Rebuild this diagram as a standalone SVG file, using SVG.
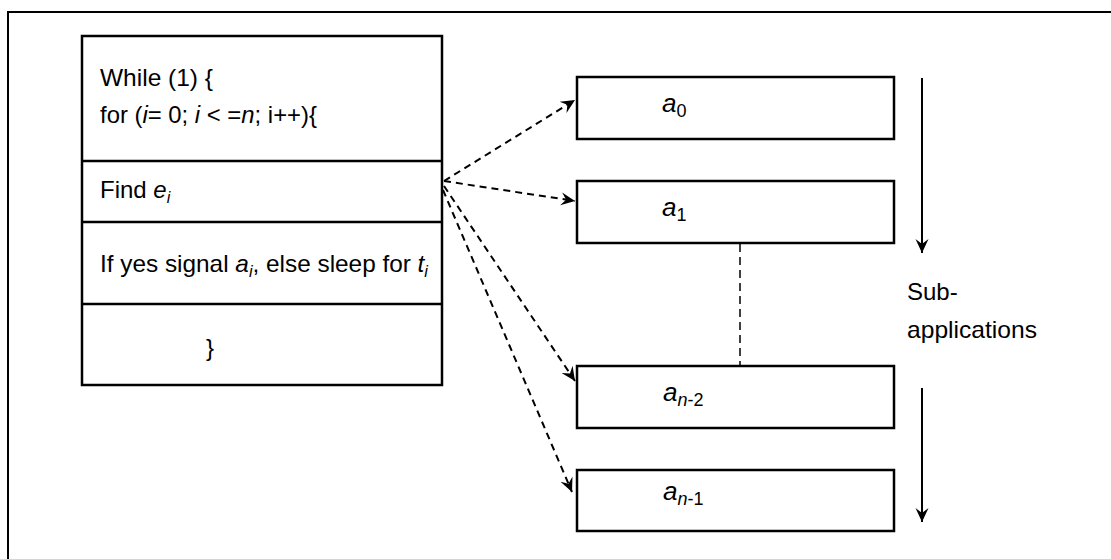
<svg xmlns="http://www.w3.org/2000/svg" width="1111" height="559" viewBox="0 0 1111 559">
<style>
  .frame { fill: none; stroke: #000; stroke-width: 2; }
  .box { fill: #fff; stroke: #000; stroke-width: 2.5; }
  .div { stroke: #000; stroke-width: 2.5; }
  .t { font-family: "Liberation Sans", Arial, sans-serif; font-size: 24px; fill: #000; }
  .it { font-style: italic; }
  .sub { font-size: 16px; }
  .lab { font-size: 26px; }
  .lsub { font-size: 18px; }
  .dash { fill: none; stroke: #000; stroke-width: 2; stroke-dasharray: 7 5; }
  .vdash { fill: none; stroke: #000; stroke-width: 1.5; stroke-dasharray: 8 5; }
  .solid { fill: none; stroke: #000; stroke-width: 2; }
</style>
<defs>
  <marker id="ah" viewBox="-14 -7 15 14" refX="0" refY="0" markerWidth="15" markerHeight="14" markerUnits="userSpaceOnUse" orient="auto">
    <path d="M0,0 L-14,-6.5 L-9,0 L-14,6.5 Z" fill="#000"/>
  </marker>
</defs>
<rect width="1111" height="559" fill="#fff"/>
<path class="frame" d="M8,559 V12 H1111"/>

<g id="loop">
  <rect class="box" x="82" y="36" width="360" height="349"/>
  <line class="div" x1="82" y1="161" x2="442" y2="161"/>
  <line class="div" x1="82" y1="222" x2="442" y2="222"/>
  <line class="div" x1="82" y1="304" x2="442" y2="304"/>
  <text class="t" x="100" y="86" textLength="113" lengthAdjust="spacingAndGlyphs">While (1) {</text>
  <text class="t" x="100" y="123" textLength="217" lengthAdjust="spacingAndGlyphs">for (<tspan class="it">i</tspan>= 0; <tspan class="it">i</tspan> &lt; =<tspan class="it">n</tspan>; i++){</text>
  <text class="t" x="100" y="198">Find <tspan class="it">e</tspan><tspan class="it sub" dy="5">i</tspan></text>
  <text class="t" x="100" y="272" textLength="328" lengthAdjust="spacingAndGlyphs">If yes signal <tspan class="it">a</tspan><tspan class="it sub" dy="5">i</tspan><tspan dy="-5">, else sleep for </tspan><tspan class="it">t</tspan><tspan class="it sub" dy="5">i</tspan></text>
  <text class="t" x="206" y="356">}</text>
</g>

<g id="a0">
  <rect class="box" x="577" y="77" width="317" height="62"/>
  <text class="t lab" x="662" y="112"><tspan class="it">a</tspan><tspan class="lsub" dy="5">0</tspan></text>
</g>
<g id="a1">
  <rect class="box" x="577" y="181" width="317" height="62"/>
  <text class="t lab" x="662" y="216"><tspan class="it">a</tspan><tspan class="lsub" dy="5">1</tspan></text>
</g>
<g id="an2">
  <rect class="box" x="577" y="366" width="317" height="62"/>
  <text class="t lab" x="663" y="401"><tspan class="it">a</tspan><tspan class="lsub" dy="5"><tspan class="it">n</tspan>-2</tspan></text>
</g>
<g id="an1">
  <rect class="box" x="577" y="470" width="317" height="61"/>
  <text class="t lab" x="663" y="500"><tspan class="it">a</tspan><tspan class="lsub" dy="5"><tspan class="it">n</tspan>-1</tspan></text>
</g>

<g id="label">
  <text class="t" x="907" y="300">Sub-</text>
  <text class="t" x="907" y="338" textLength="130" lengthAdjust="spacingAndGlyphs">applications</text>
</g>

<g id="connectors">
  <line class="dash" x1="444" y1="181" x2="575" y2="100" marker-end="url(#ah)"/>
  <line class="dash" x1="444" y1="181" x2="575" y2="201" marker-end="url(#ah)"/>
  <line class="dash" x1="444" y1="186" x2="575" y2="381" marker-end="url(#ah)"/>
  <line class="dash" x1="443" y1="190" x2="572" y2="492" marker-end="url(#ah)"/>
  <line class="vdash" x1="740" y1="244" x2="740" y2="365"/>
  <line class="solid" x1="922" y1="78" x2="922" y2="253" marker-end="url(#ah)"/>
  <line class="solid" x1="922" y1="388" x2="922" y2="522" marker-end="url(#ah)"/>
</g>
</svg>
